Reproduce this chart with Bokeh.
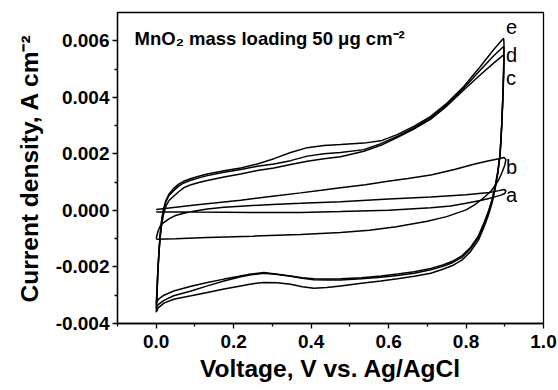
from bokeh.plotting import figure
from bokeh.models import FixedTicker, PrintfTickFormatter, Label
from bokeh.embed import file_html
from bokeh.resources import INLINE

# ---------------- data ----------------
# anodic sweep voltages shared by the three large loops c, d, e
big_v_anodic = [0.000, 0.002, 0.004, 0.007, 0.010, 0.014, 0.019, 0.025, 0.033, 0.045,
                0.058, 0.071, 0.090, 0.110, 0.132, 0.175, 0.218, 0.261, 0.304, 0.347,
                0.390, 0.433, 0.476, 0.536, 0.580, 0.622, 0.665, 0.708, 0.751, 0.794,
                0.837, 0.872, 0.897]
# cathodic sweep voltages shared by c, d, e
big_v_cathodic = [0.898, 0.897, 0.895, 0.892, 0.888, 0.882, 0.875, 0.867, 0.857, 0.846,
                  0.832, 0.812, 0.790, 0.765, 0.740, 0.709, 0.666, 0.623, 0.580, 0.530,
                  0.476, 0.440, 0.407, 0.377, 0.347, 0.313, 0.278, 0.245, 0.218, 0.175,
                  0.132, 0.090, 0.045, 0.020, 0.005, 0.000]

e_i_anodic = [-0.00360, -0.00300, -0.00230, -0.00150, -0.00090, -0.00035, 0.00005, 0.00035, 0.00058, 0.00078,
              0.00093, 0.00103, 0.00113, 0.00121, 0.00129, 0.00140, 0.00150, 0.00164, 0.00183, 0.00205,
              0.00222, 0.00230, 0.00233, 0.00238, 0.00246, 0.00268, 0.00297, 0.00332, 0.00380, 0.00438,
              0.00509, 0.00570, 0.00609]
e_i_cathodic = [0.00590, 0.00500, 0.00400, 0.00300, 0.00200, 0.00130, 0.00075, 0.00025, -0.00020, -0.00060,
                -0.00105, -0.00145, -0.00175, -0.00195, -0.00208, -0.00222, -0.00233, -0.00242, -0.00250, -0.00258,
                -0.00267, -0.00273, -0.00275, -0.00270, -0.00261, -0.00256, -0.00255, -0.00260, -0.00267, -0.00278,
                -0.00290, -0.00302, -0.00314, -0.00328, -0.00345, -0.00360]

d_i_anodic = [-0.00345, -0.00290, -0.00220, -0.00145, -0.00088, -0.00035, 0.00002, 0.00031, 0.00053, 0.00070,
              0.00086, 0.00097, 0.00107, 0.00115, 0.00123, 0.00135, 0.00145, 0.00156, 0.00164, 0.00176,
              0.00192, 0.00200, 0.00205, 0.00215, 0.00236, 0.00262, 0.00292, 0.00327, 0.00375, 0.00432,
              0.00497, 0.00548, 0.00580]
d_i_cathodic = [0.00570, 0.00490, 0.00400, 0.00300, 0.00200, 0.00135, 0.00080, 0.00032, -0.00012, -0.00050,
                -0.00095, -0.00135, -0.00165, -0.00185, -0.00198, -0.00210, -0.00222, -0.00230, -0.00236, -0.00242,
                -0.00246, -0.00246, -0.00245, -0.00240, -0.00233, -0.00227, -0.00222, -0.00228, -0.00235, -0.00250,
                -0.00267, -0.00285, -0.00302, -0.00318, -0.00333, -0.00345]

c_i_anodic = [-0.00330, -0.00280, -0.00215, -0.00150, -0.00100, -0.00050, -0.00012, 0.00015, 0.00035, 0.00050,
              0.00066, 0.00080, 0.00091, 0.00099, 0.00106, 0.00118, 0.00129, 0.00141, 0.00150, 0.00162,
              0.00174, 0.00183, 0.00190, 0.00209, 0.00230, 0.00258, 0.00288, 0.00322, 0.00370, 0.00426,
              0.00480, 0.00522, 0.00550]
c_i_cathodic = [0.00540, 0.00470, 0.00390, 0.00295, 0.00200, 0.00138, 0.00085, 0.00038, -0.00006, -0.00045,
                -0.00090, -0.00130, -0.00160, -0.00180, -0.00193, -0.00205, -0.00217, -0.00225, -0.00232, -0.00238,
                -0.00242, -0.00243, -0.00242, -0.00238, -0.00232, -0.00226, -0.00220, -0.00225, -0.00232, -0.00243,
                -0.00255, -0.00268, -0.00285, -0.00300, -0.00315, -0.00330]

# small loop a (tip ~0.0007 A cm-2)
a_v = [0.000, 0.002, 0.005, 0.010, 0.020, 0.035, 0.050, 0.071, 0.100, 0.132,
       0.175, 0.218, 0.300, 0.373, 0.476, 0.600, 0.709, 0.800, 0.860, 0.885,
       0.898, 0.903, 0.900, 0.890, 0.870, 0.840, 0.800, 0.760, 0.709, 0.600,
       0.476, 0.373, 0.250, 0.100, 0.000]
a_i = [-0.00100, -0.00088, -0.00072, -0.00056, -0.00042, -0.00028, -0.00018, -0.00010, -0.00002, 0.00005,
       0.00011, 0.00015, 0.00021, 0.00025, 0.00031, 0.00040, 0.00047, 0.00055, 0.00063, 0.00070,
       0.00074, 0.00070, 0.00060, 0.00054, 0.00046, 0.00036, 0.00025, 0.00016, 0.00009, 0.00001,
       -0.00004, -0.00007, -0.00007, -0.00006, -0.00006]

# loop b (tip ~0.0019 A cm-2)
b_v = [0.000, 0.050, 0.100, 0.150, 0.218, 0.300, 0.373, 0.426, 0.476, 0.540,
       0.598, 0.650, 0.709, 0.770, 0.820, 0.856, 0.885, 0.898, 0.903, 0.900,
       0.893, 0.885, 0.875, 0.864, 0.850, 0.837, 0.820, 0.800, 0.750, 0.700,
       0.620, 0.550, 0.476, 0.373, 0.250, 0.132, 0.050, 0.000]
b_i = [0.00003, 0.00011, 0.00019, 0.00026, 0.00036, 0.00050, 0.00062, 0.00071, 0.00080, 0.00091,
       0.00103, 0.00113, 0.00125, 0.00145, 0.00163, 0.00175, 0.00183, 0.00187, 0.00180, 0.00160,
       0.00135, 0.00110, 0.00088, 0.00068, 0.00050, 0.00035, 0.00018, 0.00002, -0.00022, -0.00038,
       -0.00058, -0.00070, -0.00078, -0.00085, -0.00091, -0.00096, -0.00100, -0.00102]

x_major = [0.0, 0.2, 0.4, 0.6, 0.8, 1.0]
x_minor = [-0.1, 0.1, 0.3, 0.5, 0.7, 0.9]
y_major = [-0.004, -0.002, 0.0, 0.002, 0.004, 0.006]
y_minor = [-0.003, -0.001, 0.001, 0.003, 0.005]

curve_names = ["a", "b", "c", "d", "e"]
curve_label_y = [0.00056, 0.00153, 0.00468, 0.00550, 0.00650]
title_text = "MnO\u2082 mass loading 50 \u03bcg cm\u207b\u00b2"

# ---------------- figure ----------------
FONT = "Liberation Sans"
p = figure(width=558, height=390, x_range=(-0.1, 1.0), y_range=(-0.004, 0.007),
           output_backend="svg", toolbar_location=None)
p.min_border_left = 117
p.min_border_right = 15
p.min_border_top = 12
p.min_border_bottom = 67
p.background_fill_color = "white"
p.border_fill_color = "white"
p.outline_line_color = "black"
p.outline_line_width = 1.3
p.xgrid.visible = False
p.ygrid.visible = False

p.xaxis.ticker = FixedTicker(ticks=x_major, minor_ticks=x_minor)
p.yaxis.ticker = FixedTicker(ticks=y_major, minor_ticks=y_minor)
p.xaxis.formatter = PrintfTickFormatter(format="%.1f")
p.yaxis.formatter = PrintfTickFormatter(format="%.3f")
p.xaxis.axis_label = "Voltage, V vs. Ag/AgCl"
p.yaxis.axis_label = "Current density, A cm\u207b\u00b2"

for ax in (p.xaxis[0], p.yaxis[0]):
    ax.axis_line_color = "black"
    ax.axis_line_width = 1.3
    ax.major_tick_line_color = "black"
    ax.major_tick_line_width = 1.3
    ax.minor_tick_line_color = "black"
    ax.minor_tick_line_width = 1.3
    ax.major_tick_in = 0
    ax.major_tick_out = 5
    ax.minor_tick_in = 0
    ax.minor_tick_out = 3
    ax.major_label_text_font = FONT
    ax.major_label_text_font_style = "bold"
    ax.major_label_text_font_size = "19px"
    ax.major_label_text_color = "black"
    ax.axis_label_text_font = FONT
    ax.axis_label_text_font_style = "bold"
    ax.axis_label_text_font_size = "24.5px"
    ax.axis_label_text_color = "black"

p.xaxis.major_label_standoff = 6
p.xaxis.axis_label_standoff = 4
p.yaxis.major_label_standoff = 3
p.yaxis.axis_label_standoff = 10

# ---------------- curves ----------------
for v_an, i_an, v_ca, i_ca in [
    (big_v_anodic, c_i_anodic, big_v_cathodic, c_i_cathodic),
    (big_v_anodic, d_i_anodic, big_v_cathodic, d_i_cathodic),
    (big_v_anodic, e_i_anodic, big_v_cathodic, e_i_cathodic),
]:
    p.line(v_an + v_ca, i_an + i_ca, line_color="black", line_width=1.5)

p.line(a_v, a_i, line_color="black", line_width=1.5)
p.line(b_v, b_i, line_color="black", line_width=1.5)

# ---------------- annotations ----------------
for name, ly in zip(curve_names, curve_label_y):
    p.add_layout(Label(x=0.903, y=ly, text=name, text_font=FONT, text_font_size="20px",
                       text_color="black", text_baseline="alphabetic", text_align="left"))

p.add_layout(Label(x=-0.056, y=0.00608, text=title_text, text_font=FONT,
                   text_font_size="18.5px", text_font_style="bold", text_color="black",
                   text_baseline="alphabetic", text_align="left"))

open("out.html", "w").write(file_html(p, INLINE))
